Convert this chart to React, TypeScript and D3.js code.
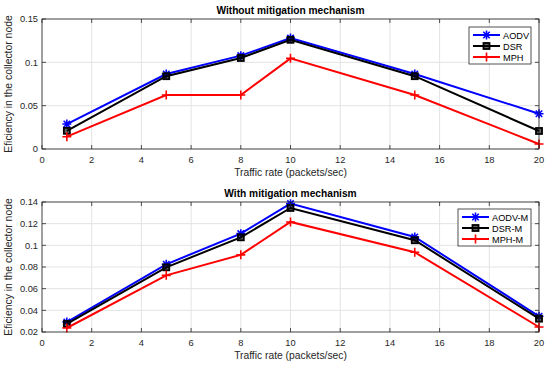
import * as d3 from 'd3'
import { useEffect } from 'react'

const W = 550
const H = 366

const rates = [1, 5, 8, 10, 15, 20]
const xTicks = [0, 2, 4, 6, 8, 10, 12, 14, 16, 18, 20]

// without mitigation
const aodv = [0.0288, 0.0865, 0.1077, 0.128, 0.0865, 0.0407]
const dsr = [0.021, 0.084, 0.105, 0.126, 0.084, 0.0208]
const mph = [0.0142, 0.0623, 0.0623, 0.1046, 0.0623, 0.0058]
const topTicks = [0, 0.05, 0.1, 0.15]

// with mitigation
const aodvM = [0.0292, 0.0825, 0.1108, 0.1385, 0.1077, 0.0345]
const dsrM = [0.0274, 0.0797, 0.1074, 0.1345, 0.1047, 0.0323]
const mphM = [0.0237, 0.0723, 0.0912, 0.1216, 0.0936, 0.0246]
const bottomTicks = [0.02, 0.04, 0.06, 0.08, 0.1, 0.12, 0.14]

type Series = { name: string; values: number[]; color: string; marker: 'star' | 'square' | 'plus' }

const topSeries: Series[] = [
  { name: 'AODV', values: aodv, color: '#0000ff', marker: 'star' },
  { name: 'DSR', values: dsr, color: '#000000', marker: 'square' },
  { name: 'MPH', values: mph, color: '#ff0000', marker: 'plus' },
]
const bottomSeries: Series[] = [
  { name: 'AODV-M', values: aodvM, color: '#0000ff', marker: 'star' },
  { name: 'DSR-M', values: dsrM, color: '#000000', marker: 'square' },
  { name: 'MPH-M', values: mphM, color: '#ff0000', marker: 'plus' },
]

const FONT = 'Liberation Sans, Arial, Helvetica, sans-serif'
const AXIS = '#262626'

function Marker({ type, x, y, color }: { type: Series['marker']; x: number; y: number; color: string }) {
  const r = 4.5
  if (type === 'square') {
    return <rect x={x - 3} y={y - 3} width={6} height={6} fill={color} fillOpacity={0.6} stroke={color} strokeWidth={1.8} />
  }
  if (type === 'plus') {
    return (
      <path d={`M${x - r},${y}H${x + r}M${x},${y - r}V${y + r}`} stroke={color} strokeWidth={1.6} />
    )
  }
  const d = r * 0.72
  return (
    <path
      d={`M${x - r},${y}H${x + r}M${x},${y - r}V${y + r}M${x - d},${y - d}L${x + d},${y + d}M${x - d},${y + d}L${x + d},${y - d}`}
      stroke={color}
      strokeWidth={1.6}
    />
  )
}

function Panel({
  top,
  bottom,
  domain,
  ticks,
  series,
  title,
  legend,
}: {
  top: number
  bottom: number
  domain: [number, number]
  ticks: number[]
  series: Series[]
  title: string
  legend: { x: number; y: number; w: number }
}) {
  const x = d3.scaleLinear().domain([0, 20]).range([42, 539])
  const y = d3.scaleLinear().domain(domain).range([bottom, top])
  const fmt = d3.format('~g')
  const line = d3
    .line<number>()
    .x((_, i) => x(rates[i]))
    .y((v) => y(v))
  const [x0, x1] = x.range()
  return (
    <g fontFamily={FONT}>
      <rect x={x0} y={top} width={x1 - x0} height={bottom - top} fill="#fff" />
      {xTicks.map((t) => (
        <line key={'gx' + t} x1={x(t)} x2={x(t)} y1={top} y2={bottom} stroke="#e3e3e3" strokeWidth={1} />
      ))}
      {ticks.map((t) => (
        <line key={'gy' + t} x1={x0} x2={x1} y1={y(t)} y2={y(t)} stroke="#e3e3e3" strokeWidth={1} />
      ))}
      {series.map((s) => (
        <g key={s.name}>
          <path d={line(s.values) ?? undefined} fill="none" stroke={s.color} strokeWidth={2} />
          {s.values.map((v, i) => (
            <Marker key={i} type={s.marker} x={x(rates[i])} y={y(v)} color={s.color} />
          ))}
        </g>
      ))}
      <rect x={x0} y={top} width={x1 - x0} height={bottom - top} fill="none" stroke={AXIS} strokeWidth={0.8} />
      {xTicks.map((t) => (
        <g key={'tx' + t}>
          <line x1={x(t)} x2={x(t)} y1={bottom} y2={bottom - 4} stroke={AXIS} strokeWidth={0.8} />
          <line x1={x(t)} x2={x(t)} y1={top} y2={top + 4} stroke={AXIS} strokeWidth={0.8} />
          <text x={x(t)} y={bottom + 14} textAnchor="middle" fontSize={9.3} fill={AXIS}>
            {t}
          </text>
        </g>
      ))}
      {ticks.map((t) => (
        <g key={'ty' + t}>
          <line x1={x0} x2={x0 + 4} y1={y(t)} y2={y(t)} stroke={AXIS} strokeWidth={0.8} />
          <line x1={x1} x2={x1 - 4} y1={y(t)} y2={y(t)} stroke={AXIS} strokeWidth={0.8} />
          <text x={x0 - 4} y={y(t) + 3.2} textAnchor="end" fontSize={9.3} fill={AXIS}>
            {fmt(t)}
          </text>
        </g>
      ))}
      <text x={(x0 + x1) / 2} y={top - 5} textAnchor="middle" fontSize={10.2} fontWeight="bold" fill="#000">
        {title}
      </text>
      <text x={(x0 + x1) / 2} y={bottom + 27} textAnchor="middle" fontSize={10.3} fill={AXIS}>
        Traffic rate (packets/sec)
      </text>
      <text
        transform={`translate(12,${(top + bottom) / 2}) rotate(-90)`}
        textAnchor="middle"
        fontSize={10.4}
        fill={AXIS}
      >
        Eficiency in the collector node
      </text>
      <g transform={`translate(${legend.x},${legend.y})`}>
        <rect x={0} y={0} width={legend.w} height={37} fill="#fff" stroke={AXIS} strokeWidth={0.8} />
        {series.map((s, i) => {
          const ly = 8 + i * 11
          return (
            <g key={s.name}>
              <line x1={4} x2={31} y1={ly} y2={ly} stroke={s.color} strokeWidth={2} />
              <Marker type={s.marker} x={17.5} y={ly} color={s.color} />
              <text x={34} y={ly + 3.5} fontSize={9.2} fill="#000">
                {s.name}
              </text>
            </g>
          )
        })}
      </g>
    </g>
  )
}

export default function App() {
  useEffect(() => {
    document.body.style.margin = '0'
  }, [])
  return (
    <svg width={W} height={H} style={{ display: 'block', background: '#fff' }}>
      <rect width={W} height={H} fill="#fff" />
      <Panel
        top={19}
        bottom={149}
        domain={[0, 0.15]}
        ticks={topTicks}
        series={topSeries}
        title="Without mitigation mechanism"
        legend={{ x: 469, y: 27, w: 62 }}
      />
      <Panel
        top={202}
        bottom={332}
        domain={[0.02, 0.14]}
        ticks={bottomTicks}
        series={bottomSeries}
        title="With mitigation mechanism"
        legend={{ x: 458, y: 209, w: 73 }}
      />
    </svg>
  )
}
